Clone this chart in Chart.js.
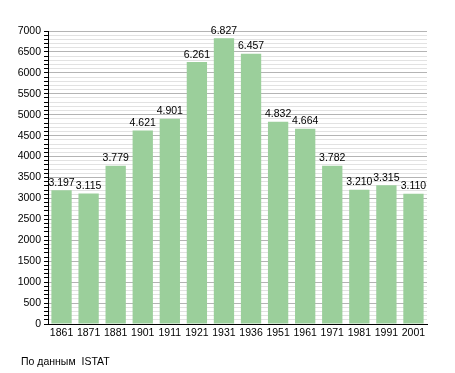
<!DOCTYPE html>
<html>
<head>
<meta charset="utf-8">
<script src="https://cdn.jsdelivr.net/npm/chart.js@4/dist/chart.umd.min.js"></script>
<style>
  html, body { margin: 0; padding: 0; background: #fff; }
  #wrap { position: relative; width: 455px; height: 373px; }
  #note { position: absolute; left: 21px; top: 355px; font: 10.5px "Liberation Sans", Arial, sans-serif; color: #000; white-space: pre; }
</style>
</head>
<body>
<div id="wrap">
  <canvas id="chart" width="455" height="373"></canvas>
  <div id="note">По данным  ISTAT</div>
</div>
<script>
const years = ['1861', '1871', '1881', '1901', '1911', '1921', '1931', '1936', '1951', '1961', '1971', '1981', '1991', '2001'];
const population = [3197, 3115, 3779, 4621, 4901, 6261, 6827, 6457, 4832, 4664, 3782, 3210, 3315, 3110];

const FONT = '"Liberation Sans", Arial, sans-serif';

function fmt(v) {
  const s = String(v);
  return s.length > 3 ? s.slice(0, -3) + '.' + s.slice(-3) : s;
}

// valori sopra le barre
const valueLabels = {
  id: 'valueLabels',
  afterDatasetsDraw(chart) {
    const ctx = chart.ctx;
    const meta = chart.getDatasetMeta(0);
    ctx.save();
    ctx.font = '10.5px ' + FONT;
    ctx.fillStyle = '#000';
    ctx.textAlign = 'center';
    ctx.textBaseline = 'bottom';
    meta.data.forEach((bar, i) => {
      ctx.fillText(fmt(population[i]), bar.x, bar.y - 2);
    });
    ctx.restore();
  }
};

const ctx = document.getElementById('chart').getContext('2d');

new Chart(ctx, {
  type: 'bar',
  data: {
    labels: years,
    datasets: [{
      data: population,
      backgroundColor: '#9bcf9b',
      borderWidth: 0,
      categoryPercentage: 1,
      barPercentage: 0.75
    }]
  },
  options: {
    responsive: false,
    animation: false,
    layout: { padding: { top: 31, right: 28, bottom: 0, left: 0 } },
    plugins: {
      legend: { display: false },
      tooltip: { enabled: false }
    },
    scales: {
      x: {
        grid: { display: false, drawTicks: false },
        border: { color: '#000', width: 1 },
        ticks: { color: '#000', font: { family: FONT, size: 10.5 }, padding: 3, maxRotation: 0, autoSkip: false },
        afterFit(scale) { scale.height = 49; }
      },
      y: {
        min: 0,
        max: 7000,
        border: { color: '#000', width: 1 },
        grid: {
          color: c => (c.tick && c.tick.value % 500 === 0) ? '#b4b4b4' : '#e2e2e2',
          tickColor: '#000',
          tickLength: 4
        },
        ticks: {
          stepSize: 100,
          maxTicksLimit: 100,
          autoSkip: false,
          color: '#000',
          font: { family: FONT, size: 10.5 },
          padding: 3,
          callback: v => (v % 500 === 0 ? v : '')
        },
        afterFit(scale) { scale.width = 48; }
      }
    }
  },
  plugins: [valueLabels]
});
</script>
</body>
</html>
